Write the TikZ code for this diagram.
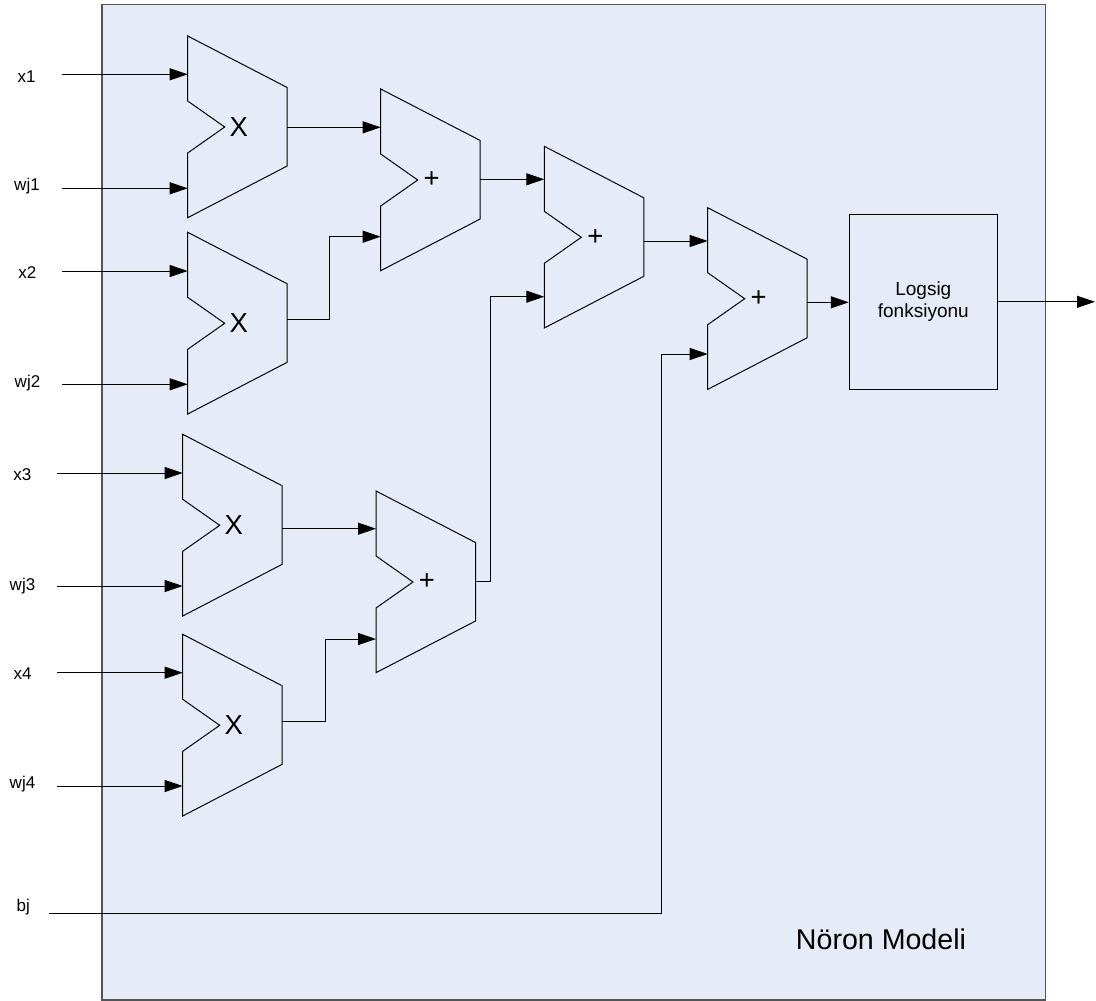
\documentclass[tikz,border=0pt]{standalone}
\usepackage{fontspec}
\setmainfont{Liberation Sans}
\usetikzlibrary{arrows.meta,calc}
\definecolor{panel}{HTML}{E6ECF7}
\definecolor{frame}{HTML}{555555}
\begin{document}
\begin{tikzpicture}[x=1pt,y=-1pt,
  wire/.style={line width=1pt,draw=black},
  arr/.style={wire,-{Triangle[length=18pt,width=12pt]}},
  blockline/.style={line width=1pt,draw=black,fill=panel,line join=miter},
  opsym/.style={inner sep=0pt,font=\fontsize{27.5}{30}\selectfont},
  lbl/.style={inner sep=0pt,font=\fontsize{17}{20}\selectfont},
  pics/alu/.style 2 args={code={
    % arithmetic unit outline: tapered body with a notch on the input side
    \draw[blockline] (0,0) -- (99.5,51.5) -- (99.5,130) -- (0,181.7)
      -- (0,117) -- (37,91) -- (0,65) -- cycle;
    \node[opsym] (-lab) at (51,91) {#1};
    \coordinate (-w) at (0,0);
    \coordinate (-out) at (99.5,#2);
  }}]
\useasboundingbox (0,0) rectangle (1096,1001);

% model panel
\draw[line width=1.2pt,draw=frame,fill=panel] (102,4.5) rectangle (1045.5,1000);
\node[inner sep=0pt,font=\fontsize{28.6}{32}\selectfont] (title) at (881,939) {Nöron Modeli};

% multipliers and adders
\pic (m1) at (187.7,36)    {alu={X}{91.3}};
\pic (m2) at (187.7,232.3) {alu={X}{86.7}};
\pic (m3) at (182.7,434.3) {alu={X}{94.4}};
\pic (m4) at (182.7,634.3) {alu={X}{87}};
\pic (p1) at (380.7,89)    {alu={+}{90.3}};
\pic (p2) at (544.3,146.3) {alu={+}{94.7}};
\pic (p3) at (707.7,207.7) {alu={+}{94.6}};
\pic (p4) at (376,491)     {alu={+}{90.7}};

% activation block
\node[draw=black,line width=1pt,fill=panel,minimum width=148pt,minimum height=175pt,
      inner sep=0pt,align=center,font=\fontsize{19}{22.3}\selectfont]
      (ls) at (923.3,301.8) {Logsig\\fonksiyonu};
\coordinate (yout) at (1095,301.8);

% input labels and line starts
\node[lbl] (l-x1)  at (26.7,77)   {x1};
\node[lbl] (l-wj1) at (27,186.3)  {wj1};
\node[lbl] (l-x2)  at (27.3,273)  {x2};
\node[lbl] (l-wj2) at (27.5,382.7){wj2};
\node[lbl] (l-x3)  at (22.3,474.5){x3};
\node[lbl] (l-wj3) at (22.5,586)  {wj3};
\node[lbl] (l-x4)  at (22.5,674)  {x4};
\node[lbl] (l-wj4) at (22.5,784)  {wj4};
\node[lbl] (l-bj)  at (23.3,907)  {bj};
\coordinate (s-x1)  at (62.3,74.3);
\coordinate (s-wj1) at (62.3,188.3);
\coordinate (s-x2)  at (62.3,271);
\coordinate (s-wj2) at (62.3,384.3);
\coordinate (s-x3)  at (57.3,473);
\coordinate (s-wj3) at (57.3,586);
\coordinate (s-x4)  at (57.3,672.7);
\coordinate (s-wj4) at (57.3,786);
\coordinate (s-bj)  at (49.3,913);

% input wires
\draw[arr] (s-x1)  -- (s-x1  -| m1-w);
\draw[arr] (s-wj1) -- (s-wj1 -| m1-w);
\draw[arr] (s-x2)  -- (s-x2  -| m2-w);
\draw[arr] (s-wj2) -- (s-wj2 -| m2-w);
\draw[arr] (s-x3)  -- (s-x3  -| m3-w);
\draw[arr] (s-wj3) -- (s-wj3 -| m3-w);
\draw[arr] (s-x4)  -- (s-x4  -| m4-w);
\draw[arr] (s-wj4) -- (s-wj4 -| m4-w);

% elbows of the routed wires
\coordinate (e-m2) at (329.3,236.7);
\coordinate (e-m4) at (325,639);
\coordinate (e-p4) at (490,296.7);
\coordinate (e-bj) at (661.3,354);

% internal wires
\draw[arr] (m1-out) -- (m1-out -| p1-w);
\draw[arr] (m2-out) -| (e-m2) -- (e-m2 -| p1-w);
\draw[arr] (m3-out) -- (m3-out -| p4-w);
\draw[arr] (m4-out) -| (e-m4) -- (e-m4 -| p4-w);
\draw[arr] (p1-out) -- (p1-out -| p2-w);
\draw[arr] (p4-out) -| (e-p4) -- (e-p4 -| p2-w);
\draw[arr] (p2-out) -- (p2-out -| p3-w);
\draw[arr] (s-bj) -| (e-bj) -- (e-bj -| p3-w);
\draw[arr] (p3-out) -- (p3-out -| ls.west);
\draw[arr] (ls.east) -- (yout);
\end{tikzpicture}
\end{document}
